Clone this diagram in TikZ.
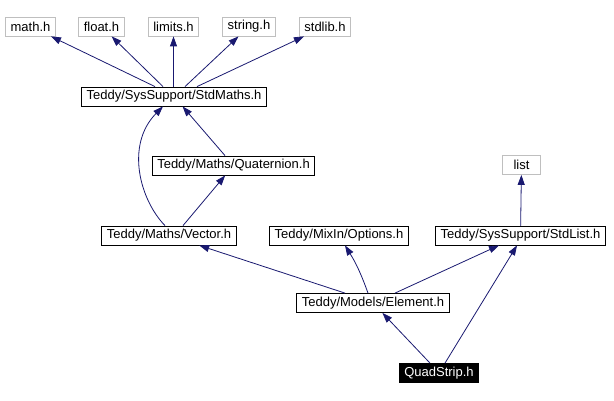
\documentclass[tikz,border=0pt]{standalone}
\usepackage{fontspec}
\setmainfont{Liberation Sans}
\usepackage{tikz}
\usetikzlibrary{positioning, arrows.meta}
\definecolor{edgeblue}{HTML}{191970}
\definecolor{sysgray}{HTML}{BFBFBF}

\begin{document}
\begin{tikzpicture}[
        x=1pt, y=-1pt,
        hdr/.style = {draw, line width=0.8pt, minimum height=19pt, inner xsep=5pt, inner ysep=0pt, font=\fontsize{13}{15}\selectfont},
        syshdr/.style = {hdr, draw=sysgray},
        cur/.style = {hdr, fill=black, text=white},
        dep/.style = {-{Triangle[length=10pt, width=7pt]}, edgeblue, line width=0.8pt},
    ]
        \useasboundingbox (0,0) rectangle (614,401);
        \node[syshdr] (math) at (30.5,26.5) {math.h};
        \node[syshdr] (flt) at (101.5,26.5) {float.h};
        \node[syshdr] (lim) at (173.5,26.5) {limits.h};
        \node[syshdr] (str) at (249,26.5) {string.h};
        \node[syshdr] (stdl) at (325,26.5) {stdlib.h};
        \node[hdr] (sm) at (174,96.5) {Teddy/SysSupport/StdMaths.h};
        \node[hdr] (qt) at (233.5,165.5) {Teddy/Maths/Quaternion.h};
        \node[syshdr, minimum width=38pt] (lst) at (521.5,165) {list};
        \node[hdr] (vec) at (169,235.5) {Teddy/Maths/Vector.h};
        \node[hdr] (opt) at (339,235.5) {Teddy/MixIn/Options.h};
        \node[hdr] (sl) at (520.5,235.5) {Teddy/SysSupport/StdList.h};
        \node[hdr] (el) at (373,303) {Teddy/Models/Element.h};
        \node[cur] (qs) at (439,373) {QuadStrip.h};
        \draw[dep] ([xshift=-19pt]sm.north) -- (math);
        \draw[dep] ([xshift=-11pt]sm.north) -- (flt);
        \draw[dep] ([xshift=-0.5pt]sm.north) -- (lim);
        \draw[dep] ([xshift=11pt]sm.north) -- (str);
        \draw[dep] ([xshift=23pt]sm.north) -- (stdl);
        \draw[dep] ([xshift=-8.5pt]qt.north) -- (sm);
        \draw[dep] ([xshift=-4pt]vec.north) .. controls (140,200) and (125,145) .. ([xshift=-11pt]sm.south);
        \draw[dep] ([xshift=14pt]vec.north) -- (qt);
        \draw[dep] ([xshift=-28pt]el.north) -- (vec);
        \draw[dep] ([xshift=-5pt]el.north) to[bend right=6] ([xshift=6pt]opt.south);
        \draw[dep] ([xshift=22pt]el.north) -- (sl);
        \draw[dep] (sl) -- (lst);
        \draw[dep] ([xshift=-9pt]qs.north) -- (el);
        \draw[dep] ([xshift=6pt]qs.north) -- ([xshift=-3.5pt]sl.south);
    \end{tikzpicture}
\end{document}
